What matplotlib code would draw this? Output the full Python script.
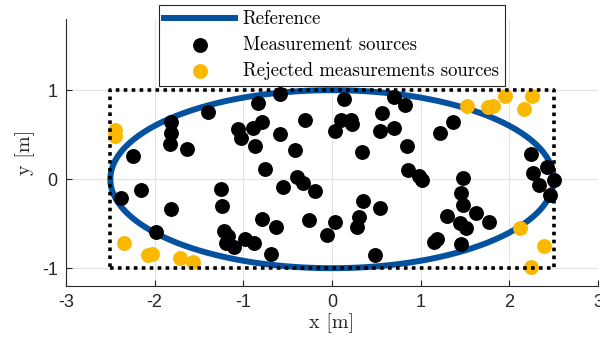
import numpy as np
import matplotlib
matplotlib.use("Agg")
import matplotlib.pyplot as plt

# reference ellipse semi-axes and bounding box [m]
ref_a = 2.5
ref_b = 1.0
box_x = [-2.5, 2.5, 2.5, -2.5, -2.5]
box_y = [-1.0, -1.0, 1.0, 1.0, -1.0]

# accepted measurement sources
meas_x = [-2.38, -2.24, -2.15, -1.98, -1.82, -1.82, -1.83, -1.64, -1.82, -1.40,
          -1.25, -1.24, -1.22, -1.17, -1.20, -1.10, -0.98, -0.88,
          -1.06, -1.03, -0.89, -0.79, -0.87, -0.84, -0.59, -0.59, -0.31, -0.42,
          -0.76, -0.39, -0.33, -0.19, -0.55, -0.79, -0.63, -0.26, -0.06, -0.69,
          0.03, 0.35, 0.54, 0.30, 0.28, 0.48,
          0.14, 0.10, 0.21, 0.23, 0.03, 0.34, 0.70, 0.56, 0.70, 0.54, 0.82,
          0.85, 1.22, 1.37, 0.86, 0.98, 1.02,
          1.48, 1.45, 1.48, 1.30, 1.62, 1.44, 1.51, 1.77, 1.15, 1.18, 1.45,
          2.24, 2.43, 2.27, 2.50, 2.34, 2.46]
meas_y = [-0.21, 0.26, -0.12, -0.59, 0.64, 0.52, 0.40, 0.34, -0.34, 0.75,
          -0.11, -0.30, -0.58, -0.64, -0.72, -0.76, -0.67, -0.72,
          0.56, 0.46, 0.57, 0.64, 0.37, 0.86, 0.955, 0.51, 0.67, 0.33,
          0.12, 0.03, -0.04, -0.13, -0.09, -0.45, -0.54, -0.46, -0.63, -0.84,
          -0.48, -0.24, -0.32, -0.43, -0.54, -0.85,
          0.90, 0.66, 0.67, 0.62, 0.54, 0.31, 0.92, 0.74, 0.58, 0.54, 0.83,
          0.37, 0.52, 0.64, 0.10, 0.04, -0.01,
          0.01, -0.15, -0.29, -0.41, -0.38, -0.49, -0.55, -0.48, -0.71, -0.67, -0.73,
          0.28, 0.14, 0.07, -0.01, -0.06, -0.18]

# sources outside the ellipse
rej_x = [-2.45, -2.45, -2.35, -2.08, -2.03, -1.71, -1.57,
         1.52, 1.76, 1.81, 1.95, 2.25, 2.16, 2.12, 2.39, 2.24]
rej_y = [0.55, 0.49, -0.72, -0.85, -0.84, -0.88, -0.93,
         0.82, 0.81, 0.82, 0.94, 0.94, 0.79, -0.55, -0.75, -0.99]

blue = "#0451a0"
gold = "#fbb800"
serif = "cmr10"

fig = plt.figure(figsize=(6.0, 3.47), dpi=100)
ax = fig.add_axes([0.11, 0.1758, 0.8867, 0.7695])

t = np.linspace(0, 2 * np.pi, 400)
ax.plot(ref_a * np.cos(t), ref_b * np.sin(t), color=blue, lw=4.3,
        label="Reference", zorder=2)
ax.scatter(meas_x, meas_y, s=115, color="black", lw=0,
           label="Measurement sources", zorder=3)
ax.scatter(rej_x, rej_y, s=115, color=gold, lw=0,
           label="Rejected measurements sources", zorder=3)
ax.plot(box_x, box_y, color="black", lw=2.6, ls=(0, (1, 1.2)), zorder=4)

ax.set_xlim(-3, 3)
ax.set_ylim(-1.2, 1.8)
ax.set_xticks([-3, -2, -1, 0, 1, 2, 3])
ax.set_yticks([-1, 0, 1])
ax.set_xticklabels(["-3", "-2", "-1", "0", "1", "2", "3"])
ax.set_yticklabels(["-1", "0", "1"])
ax.grid(True, color="#e3e3e3", lw=0.8)
ax.set_axisbelow(True)
for side in ("top", "right"):
    ax.spines[side].set_visible(False)
for side in ("left", "bottom"):
    ax.spines[side].set_color("#262626")
    ax.spines[side].set_linewidth(0.8)
ax.tick_params(direction="in", length=4, width=0.8, color="#262626",
               labelsize=13, labelcolor="#262626", pad=6)
for lab in ax.get_xticklabels() + ax.get_yticklabels():
    lab.set_family("Liberation Sans")

ax.set_xlabel("x [m]", family=serif, fontsize=14.5, color="#262626", labelpad=1)
ax.set_ylabel("y [m]", family=serif, fontsize=14.5, color="#262626", labelpad=5)

leg = ax.legend(loc="upper center", bbox_to_anchor=(0.5525, 0.986),
                bbox_transform=fig.transFigure, fancybox=False, framealpha=1,
                edgecolor="#262626", prop={"family": serif, "size": 13.5},
                handlelength=3.8, handletextpad=0.4, labelspacing=0.42,
                borderpad=0.3, borderaxespad=0, scatterpoints=1,
                markerscale=1.0)
leg.get_frame().set_linewidth(0.8)

fig.savefig("out.png", dpi=100)
